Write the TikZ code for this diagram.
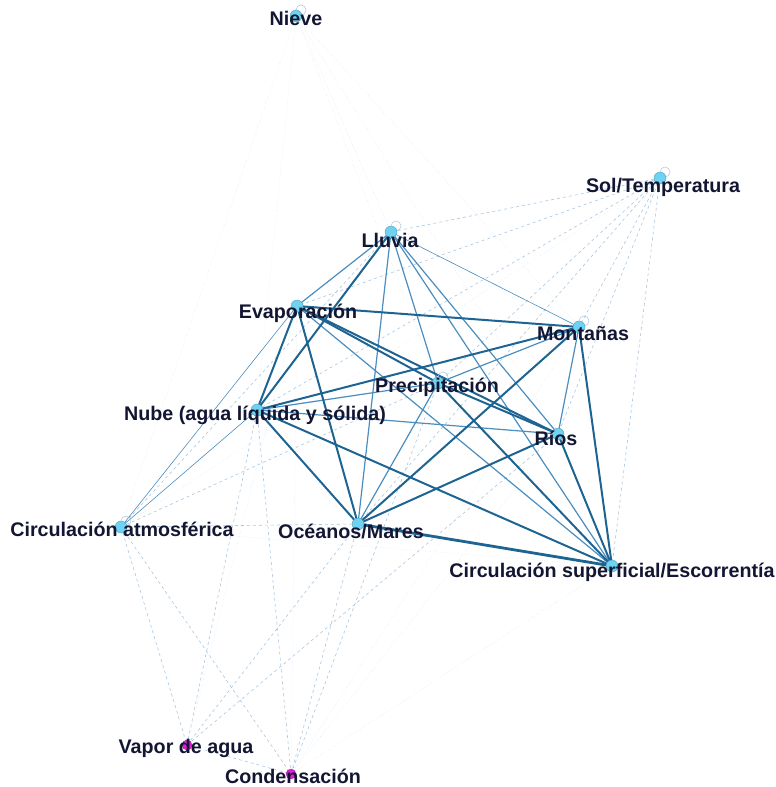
\documentclass[tikz,border=0pt]{standalone}
\usepackage{fontspec}
\setmainfont{Liberation Sans}
\usetikzlibrary{calc}
\begin{document}
\begin{tikzpicture}[x=1pt,y=-1pt,
  vtx/.style={circle,fill=nodecyan,draw=nodecyan!70!black,line width=0.3pt,inner sep=0pt,minimum size=12pt},
  vtxm/.style={circle,fill=nodemag,draw=nodemag!70!black,line width=0.3pt,inner sep=0pt,minimum size=10pt},
  lab/.style={text=labcol,font=\bfseries\fontsize{19.7}{22}\selectfont,inner sep=0pt},
  es/.style={draw=edgedark,line width=2pt},
  em/.style={draw=edgemid,line width=1.2pt},
  el/.style={draw=edgelight,line width=0.6pt,dashed},
  ef/.style={draw=edgefaint,line width=0.5pt,dotted},
  loopst/.style={draw=edgelight,line width=0.5pt}
]
\definecolor{nodecyan}{HTML}{6ED3F2}
\definecolor{nodemag}{HTML}{E21CD6}
\definecolor{labcol}{HTML}{131633}
\definecolor{edgedark}{HTML}{1E6492}
\definecolor{edgemid}{HTML}{4A8DBE}
\definecolor{edgelight}{HTML}{A9C6E0}
\definecolor{edgefaint}{HTML}{D4E2F0}
\useasboundingbox (0,0) rectangle (776,787);
% vertices (coordinates)
\coordinate (Ni) at (296,16);
\coordinate (So) at (660,178);
\coordinate (Ll) at (391,232);
\coordinate (Ev) at (297,306);
\coordinate (Mo) at (579,327);
\coordinate (Pr) at (438,383);
\coordinate (Nu) at (257,410);
\coordinate (Ri) at (558,434);
\coordinate (Ca) at (121,527);
\coordinate (Oc) at (358,524);
\coordinate (Cs) at (612,566);
\coordinate (Va) at (187,745);
\coordinate (Co) at (291,774);
% faint edges
\draw[ef] (Ni)--(Ll); \draw[ef] (Ni)--(Mo); \draw[ef] (Ni)--(Ca); \draw[ef] (Ni)--(Ri); \draw[ef] (Ni)--(Nu);
\draw[ef] (Ni)--(Pr);
\draw[ef] (So)--(Ca); \draw[ef] (Ca)--(Cs); \draw[ef] (Va)--(Ev);
\draw[ef] (Co)--(Ev); \draw[ef] (Co)--(Ri); \draw[ef] (Co)--(Cs); \draw[ef] (Co)--(Mo);
% light edges
\draw[el] (So)--(Ll); \draw[el] (So)--(Nu); \draw[el] (So)--(Ev); \draw[el] (So)--(Mo);
\draw[el] (So)--(Ri); \draw[el] (So)--(Cs); \draw[el] (So)--(Oc); \draw[el] (So)--(Pr);
\draw[el] (Ca)--(Ll); \draw[el] (Ca)--(Oc); \draw[el] (Ca)--(Va); \draw[el] (Ca)--(Co); \draw[el] (Ca)--(Pr);
\draw[el] (Va)--(Nu); \draw[el] (Va)--(Oc); \draw[el] (Va)--(Ri); \draw[el] (Va)--(Co);
\draw[el] (Co)--(Nu); \draw[el] (Co)--(Oc); \draw[el] (Co)--(Pr);
\draw[draw=edgemid,line width=0.6pt] (Ca)--(Ev);
\draw[draw=edgemid,line width=0.6pt] (Ca)--(Nu);
\draw[draw=edgemid,line width=0.6pt] (Ll)--(Mo);
% medium edges
\draw[em] (Ll)--(Ev); \draw[em] (Ll)--(Oc); \draw[em] (Ll)--(Pr); \draw[em] (Ll)--(Ri); \draw[em] (Ll)--(Cs);
\draw[em] (Ev)--(Cs); \draw[em] (Mo)--(Ri); \draw[em] (Mo)--(Pr);
\draw[em] (Nu)--(Pr); \draw[em] (Nu)--(Ri); \draw[em] (Pr)--(Oc);
% strong edges
\draw[es] (Ll)--(Nu);
\draw[es] (Ev)--(Mo); \draw[es] (Ev)--(Ri); \draw[es] (Ev)--(Pr); \draw[es] (Ev)--(Nu); \draw[es] (Ev)--(Oc);
\draw[es] (Mo)--(Nu); \draw[es] (Mo)--(Oc); \draw[es] (Mo)--(Cs);
\draw[es] (Nu)--(Oc); \draw[es] (Nu)--(Cs);
\draw[es] (Pr)--(Ri); \draw[es] (Pr)--(Cs);
\draw[es] (Ri)--(Oc); \draw[es] (Ri)--(Cs);
\draw[es,line width=2.8pt] (Oc)--(Cs);
% self loops
\foreach \v in {Ni,So,Ll,Mo,Ca,Pr} { \draw[loopst] ($(\v)+(5,-6)$) circle (5); }
% vertex markers
\node[vtx] (nNi) at (Ni) {};
\node[vtx] (nSo) at (So) {};
\node[vtx] (nLl) at (Ll) {};
\node[vtx] (nEv) at (Ev) {};
\node[vtx] (nMo) at (Mo) {};
\node[vtx] (nPr) at (Pr) {};
\node[vtx] (nNu) at (Nu) {};
\node[vtx] (nRi) at (Ri) {};
\node[vtx] (nCa) at (Ca) {};
\node[vtx] (nOc) at (Oc) {};
\node[vtx] (nCs) at (Cs) {};
\node[vtxm] (nVa) at (Va) {};
\node[vtxm] (nCo) at (Co) {};
% labels
\node[lab] (tNi) at (296,18) {Nieve};
\node[lab] (tSo) at (663,187) {Sol/Temperatura};
\node[lab] (tLl) at (390,240) {Lluvia};
\node[lab] (tEv) at (298,313) {Evaporación};
\node[lab] (tMo) at (583,333) {Montañas};
\node[lab] (tPr) at (437,387) {Precipitación};
\node[lab] (tNu) at (255,415) {Nube (agua líquida y sólida)};
\node[lab] (tRi) at (556,438) {Ríos};
\node[lab] (tCa) at (122,529) {Circulación atmosférica};
\node[lab] (tOc) at (351,531) {Océanos/Mares};
\node[lab] (tCs) at (612,572) {Circulación superficial/Escorrentía};
\node[lab] (tVa) at (186,748) {Vapor de agua};
\node[lab] (tCo) at (293,776) {Condensación};
\end{tikzpicture}
\end{document}
